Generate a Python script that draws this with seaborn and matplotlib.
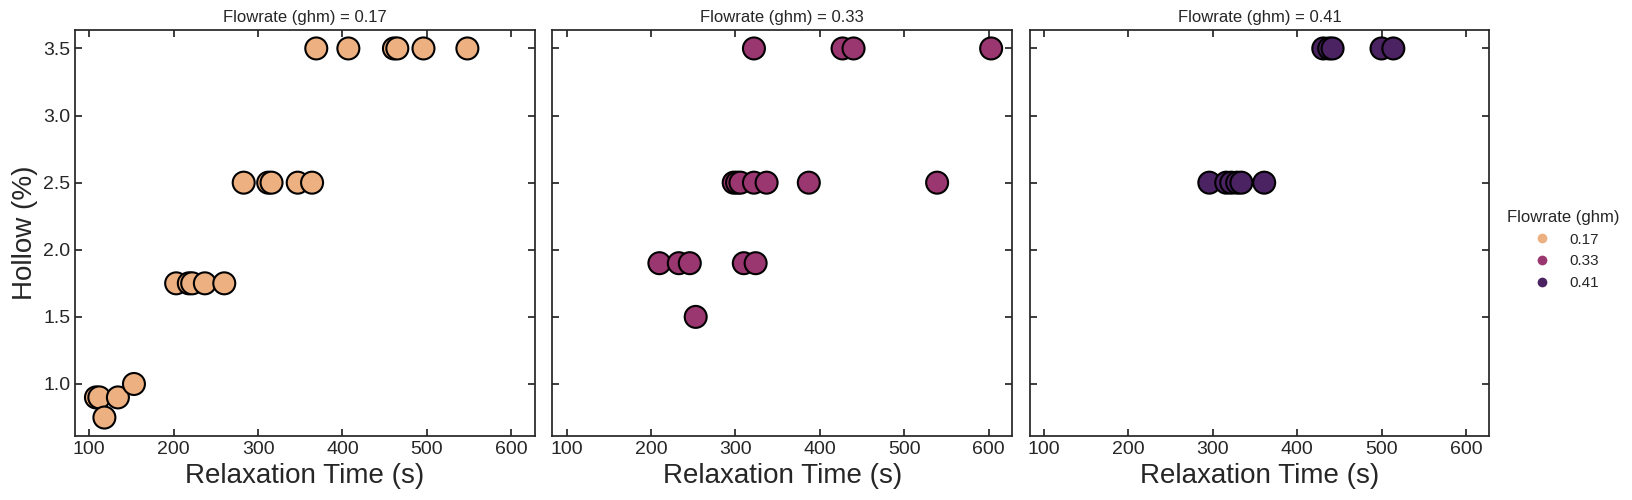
import matplotlib
matplotlib.use("Agg")
import matplotlib.pyplot as plt
import numpy as np
import pandas as pd
import seaborn as sns

sns.set_theme(style="ticks")
plt.rcParams["font.family"] = ["Liberation Sans", "DejaVu Sans"]
plt.rcParams["xtick.direction"] = "in"
plt.rcParams["ytick.direction"] = "in"
plt.rcParams["xtick.top"] = True
plt.rcParams["ytick.right"] = True

# relaxation time (s) and hollow (%) per flowrate
time_017 = [369, 407, 461, 465, 496, 548,
            283, 312, 316, 347, 364,
            203, 218, 222, 237, 260,
            108, 112, 134, 153, 118]
hollow_017 = [3.5, 3.5, 3.5, 3.5, 3.5, 3.5,
              2.5, 2.5, 2.5, 2.5, 2.5,
              1.75, 1.75, 1.75, 1.75, 1.75,
              0.9, 0.9, 0.9, 1.0, 0.75]

time_033 = [322, 427, 440, 603,
            298, 302, 306, 322, 337, 387, 539,
            210, 233, 246, 310, 324,
            253]
hollow_033 = [3.5, 3.5, 3.5, 3.5,
              2.5, 2.5, 2.5, 2.5, 2.5, 2.5, 2.5,
              1.9, 1.9, 1.9, 1.9, 1.9,
              1.5]

time_041 = [431, 438, 442, 500, 514,
            296, 316, 322, 329, 334, 361]
hollow_041 = [3.5, 3.5, 3.5, 3.5, 3.5,
              2.5, 2.5, 2.5, 2.5, 2.5, 2.5]

flowrates = [0.17, 0.33, 0.41]

df = pd.DataFrame({
    "Relaxation Time (s)": time_017 + time_033 + time_041,
    "Hollow (%)": hollow_017 + hollow_033 + hollow_041,
    "Flowrate (ghm)": [flowrates[0]] * len(time_017)
                      + [flowrates[1]] * len(time_033)
                      + [flowrates[2]] * len(time_041),
})

g = sns.relplot(data=df, x="Relaxation Time (s)", y="Hollow (%)",
                col="Flowrate (ghm)", hue="Flowrate (ghm)", palette="flare",
                kind="scatter", s=250, edgecolor="black", linewidth=1.5,
                height=5, aspect=1, facet_kws={"despine": False})

g.set_titles("{col_var} = {col_name}", size=12)
for ax in g.axes.flat:
    ax.set_xlabel("Relaxation Time (s)", fontsize=20)
    ax.tick_params(labelsize=14, length=5, width=1.25)
    ax.set_xticks([100, 200, 300, 400, 500, 600])
g.axes.flat[0].set_ylabel("Hollow (%)", fontsize=20)

g.figure.set_size_inches(16.32, 5)
g.figure.subplots_adjust(left=0.046, right=0.9126, top=0.94, bottom=0.128, wspace=0.0385)
sns.move_legend(g, "center left", bbox_to_anchor=(0.915, 0.5), frameon=False,
                title="Flowrate (ghm)", fontsize=11, title_fontsize=12)

# small dots without edge in the legend
for h in g.legend.legend_handles:
    if hasattr(h, "set_sizes"):
        h.set_sizes([50])
        h.set_linewidth(0)
    else:
        h.set_markersize(7)
        h.set_markeredgewidth(0)

g.figure.savefig("out.png", dpi=100)
